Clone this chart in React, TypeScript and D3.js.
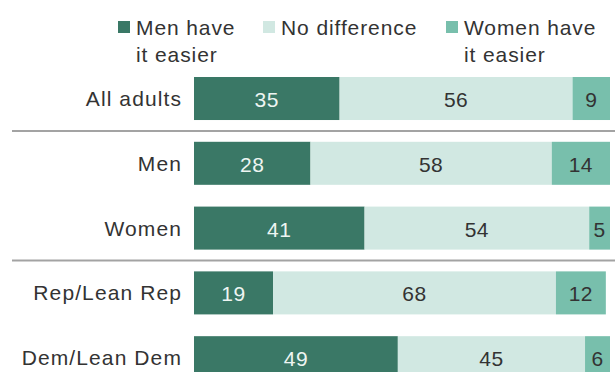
import React from "react";
import * as d3 from "d3";

const categories = ["All adults", "Men", "Women", "Rep/Lean Rep", "Dem/Lean Dem"];
const menEasier = [35, 28, 41, 19, 49];
const noDifference = [56, 58, 54, 68, 45];
const womenEasier = [9, 14, 5, 12, 6];
const seriesNames = ["Men have it easier", "No difference", "Women have it easier"];
const legendLines = [["Men have", "it easier"], ["No difference"], ["Women have", "it easier"]];
const separatorsAfter = ["All adults", "Women"];

const colors = ["#3a7866", "#d1e8e2", "#78bfac"];
const textColors = ["#eef5f2", "#333333", "#333333"];

export default function App() {
  const W = 615, H = 372;
  const x = d3.scaleLinear().domain([0, 100]).range([194, 610]);
  const y = d3.scaleBand<string>().domain(categories).range([77, 379.2]).paddingInner(0.336).paddingOuter(0);
  const rows = categories.map((c, i) => ({ c, vals: [menEasier[i], noDifference[i], womenEasier[i]] }));
  const stackData = categories.map((c, i) => ({ c, m: menEasier[i], n: noDifference[i], w: womenEasier[i] }));
  const stack = d3.stack<any>().keys(["m", "n", "w"])(stackData);
  const font = "'Liberation Sans', Arial, sans-serif";
  const legendX = [118, 263, 446];
  const step = y.step();
  return (
    <svg width={W} height={H} style={{ position: "absolute", left: 0, top: 0, background: "#fff" }} fontFamily={font}>
      {legendLines.map((lines, i) => (
        <g key={i}>
          <rect x={legendX[i]} y={21} width={12} height={12} fill={colors[i]} />
          {lines.map((ln, j) => (
            <text key={j} x={legendX[i] + 18} y={27 + j * 27} dominantBaseline="central" fontSize={21} fill="#333" letterSpacing={0.9}>
              {ln}
            </text>
          ))}
        </g>
      ))}
      {separatorsAfter.map((c) => {
        const yy = (y(c) as number) + y.bandwidth() + (step - y.bandwidth()) / 2;
        return <line key={c} x1={12} x2={615} y1={yy} y2={yy} stroke="#a3a3a3" strokeWidth={2} />;
      })}
      {stack.map((s, si) => (
        <g key={si}>
          {s.map((d, i) => {
            const x0 = x(d[0]), x1 = x(d[1]);
            const yy = y(categories[i]) as number;
            return (
              <g key={i}>
                <rect x={x0} y={yy} width={x1 - x0} height={y.bandwidth()} fill={colors[si]} />
                <text x={(x0 + x1) / 2} y={yy + y.bandwidth() / 2 + 1} textAnchor="middle" dominantBaseline="central" fontSize={21} fill={textColors[si]} letterSpacing={0.5}>
                  {rows[i].vals[si]}
                </text>
              </g>
            );
          })}
        </g>
      ))}
      {categories.map((c) => (
        <text key={c} x={182} y={(y(c) as number) + y.bandwidth() / 2} textAnchor="end" dominantBaseline="central" fontSize={21} fill="#333" letterSpacing={1.1}>
          {c}
        </text>
      ))}
    </svg>
  );
}
